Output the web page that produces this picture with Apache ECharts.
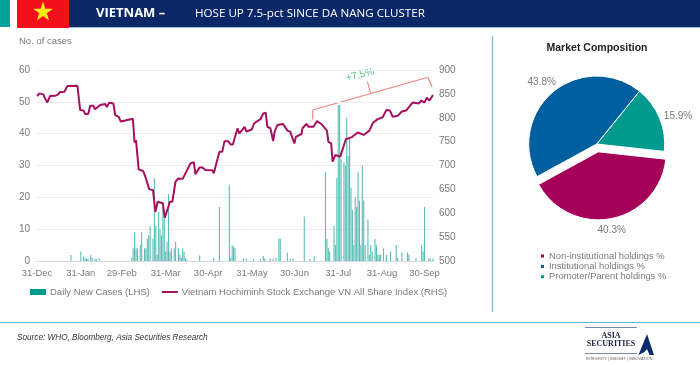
<!DOCTYPE html>
<html><head><meta charset="utf-8">
<style>html,body{margin:0;padding:0;background:#fff}#c{width:700px;height:365px}</style>
<script src="https://cdn.jsdelivr.net/npm/echarts@6/dist/echarts.min.js"></script>
</head><body><div id="c"></div>
<script>
const tickDays = [0,31,60,91,121,152,182,213,244,274];
const tickLabels = ['31-Dec','31-Jan','29-Feb','31-Mar','30-Apr','31-May','30-Jun','31-Jul','31-Aug','30-Sep'];
const caseDays = [24,31,33,34,35,36,38,39,41,42,44,67,68,69,70,71,73,74,76,77,78,79,80,82,83,84,85,86,87,88,89,90,91,92,93,94,95,97,98,100,101,102,103,104,105,106,115,125,129,136,137,138,139,140,146,148,153,158,160,161,165,167,169,171,172,177,179,181,189,193,196,204,205,206,207,210,211,212,213,214,215,217,218,219,220,221,222,223,224,225,226,227,228,229,230,231,232,234,235,236,237,239,240,241,242,243,245,247,250,254,255,258,262,263,268,272,273,274,277,278,280];
const caseValues = [1.9,3,1.4,0.8,0.8,0.7,1.8,1,0.7,0.6,1,1,4,9,4,4,5,9,4,4,7,8,11,7,26,11,2,15.5,10,8,17,14,3,6,21,3,4,4,6,4,2,1,4,3,1,0.5,1.7,1,17,24,1,5,4.5,4,0.8,0.8,0.6,0.6,1.6,0.8,0.7,0.7,1,7,7,2.7,0.8,0.8,14,0.6,1.6,28,7,4,3,11,5,26,49,49,32,31,30,45,33,38.5,23,16,5,20,17,28,19,5,30,19,5,13,2,5,3,7,5,2,2,2,4,2,3,5,1,2.7,2.7,2,1,5,3,17,0.8,0.8,0.8];
const indexDays = [0,1.7,4.5,5.7,7.3,9.2,12.8,15,16.3,19.4,21.5,28.6,30.5,32.9,34,36.2,37.6,40,41,44.7,48.2,49.4,51,54,55.3,57.7,59.3,67.8,69,70,71.9,75,76.6,77.8,79.4,82,83.7,85.3,89,90.3,92,93.9,95.7,97.9,100,103,108.5,110.9,112,115,117,119,124,125,129,131,132.6,135,137,138.5,141.8,143,144,146.8,148,152,153.4,158,160,161.7,162.9,165,167,168,170,174,177,179,182,183,187,187.7,190.5,192,195.5,198,201,205,206,208,209,211,214.4,218.4,223,226.7,231,235,237.7,241,244.4,247,249.6,251.5,255,258,261,265.7,270,271.6,274,275.6,277.5,280];
const indexValues = [845.5,851,849,840.6,832,845.5,846,849,854,854.6,866.5,867,816,815,808,808,825,825,817.6,826.7,829,822.5,831.5,830,805.7,802,792,798,748,753,692,688.5,676.6,675,650,648.7,603,624,620.8,591,605.4,624,624,666,673,672,704.5,707,682,696,696,690.5,690,683.6,729,729,751,751,744,744,778,767,766,781,771,776,788,797,809,810.6,781,778,751,771,785,787,773,771,746,760,766,778,787,781,781,793,787,773,750,746,708,722,718.5,755,760,769,764,773,790,797,801,816,815,802,804,813,815,832,830,836,831.5,842,836,847.6];
const pieNames = ['Promoter/Parent holdings %','Non-institutional holdings %','Institutional holdings %'];
const pieValues = [15.9,40.3,43.8];
const pieLegendOrder = ['Non-institutional holdings %','Institutional holdings %','Promoter/Parent holdings %'];
const pieColors = ['#009a8e','#a5005a','#00609f'];
const pieLabelSpots = [[678,116],[611.7,230],[541.7,82.5]];
const caseName = 'Daily New Cases (LHS)';
const indexName = 'Vietnam Hochiminh Stock Exchange VN All Share Index (RHS)';

const zip = (a,b)=>a.map((v,i)=>[v,b[i]]);
const FONT = '"Liberation Sans", Arial, sans-serif';
const GREY = '#7a7a7a';
const chart = echarts.init(document.getElementById('c'),null,{renderer:'canvas'});
const star = (cx,cy,R)=>{const p=[];for(let i=0;i<10;i++){const r=i%2?R*0.382:R,a=-Math.PI/2+i*Math.PI/5;p.push([cx+r*Math.cos(a),cy+r*Math.sin(a)]);}return p;};
const txt=(x,y,text,style)=>({type:'text',x,y,silent:true,style:Object.assign({text,fontFamily:FONT,fill:'#666',verticalAlign:'middle'},style)});
const rect=(x,y,w,h,fill)=>({type:'rect',silent:true,shape:{x,y,width:w,height:h},style:{fill}});
const ln=(x1,y1,x2,y2,stroke,lineWidth)=>({type:'line',silent:true,shape:{x1,y1,x2,y2},style:{stroke,lineWidth}});
chart.setOption({
  animation:false,
  textStyle:{fontFamily:FONT},
  grid:{left:37,right:267,top:70,bottom:104,containLabel:false},
  xAxis:{type:'value',min:0,max:280,splitLine:{show:false},
    axisLine:{show:true,onZero:false,lineStyle:{color:'#d9d9d9'}},axisTick:{show:false},
    axisLabel:{customValues:tickDays,color:GREY,fontSize:9.5,margin:7,formatter:v=>tickLabels[tickDays.indexOf(v)]}},
  yAxis:[
    {type:'value',min:0,max:60,interval:10,axisLine:{show:false},axisTick:{show:false},
      splitLine:{lineStyle:{color:'#ededed'}},axisLabel:{color:GREY,fontSize:10,margin:7}},
    {type:'value',min:500,max:900,interval:50,position:'right',axisLine:{show:false},axisTick:{show:false},
      splitLine:{show:false},axisLabel:{color:GREY,fontSize:10,margin:6}}
  ],
  legend:[
    {left:30,top:287,itemWidth:16,itemHeight:6,itemGap:11,padding:0,
      textStyle:{color:GREY,fontSize:9.5,padding:[0,0,0,-1]},
      data:[{name:caseName,icon:'rect',itemStyle:{color:'#00998f'}},{name:indexName,itemStyle:{opacity:0}}]},
    {left:539,top:251.5,orient:'vertical',itemWidth:5,itemHeight:5,itemGap:1.4,padding:0,
      textStyle:{color:GREY,fontSize:9.4,lineHeight:9,height:9,padding:[0,0,0,-1]},
      data:pieLegendOrder.map(name=>({name,icon:'rect'}))}
  ],
  series:[
    {name:caseName,type:'bar',xAxisIndex:0,yAxisIndex:0,barWidth:1.1,itemStyle:{color:'#5cbdb7'},data:zip(caseDays,caseValues)},
    {name:indexName,type:'line',xAxisIndex:0,yAxisIndex:1,symbol:'none',smooth:false,lineStyle:{color:'#a5115f',width:2},itemStyle:{color:'#a5115f'},data:zip(indexDays,indexValues)},
    {type:'pie',center:[596.7,144],radius:68,startAngle:51,clockwise:true,selectedMode:'single',selectedOffset:8,
      itemStyle:{borderColor:'#fff',borderWidth:1},
      label:{show:true,position:'outside',formatter:'{c}%',color:GREY,fontSize:10,overflow:'none'},
      labelLine:{show:false},
      labelLayout:p=>({x:pieLabelSpots[p.dataIndex][0],y:pieLabelSpots[p.dataIndex][1],align:'center',verticalAlign:'middle'}),
      emphasis:{disabled:true},
      data:pieNames.map((name,i)=>({name,value:pieValues[i],selected:i===1,
        label:{show:i!==1},itemStyle:{color:pieColors[i]}}))}
  ],
  graphic:{elements:[
    rect(0,0,10,27,'#00a39a'),
    rect(17,0,52,28,'#f2101c'),
    {type:'polygon',silent:true,shape:{points:star(43,12,10.5)},style:{fill:'#ffe81a'}},
    rect(69,0,631,27,'#0a2767'),
    rect(69,27,631,1,'#9fb4dc'),
    txt(96,13,'VIETNAM –',{fill:'#fff',fontSize:13,fontWeight:'bold',fontFamily:'"Open Sans"'}),
    txt(195,13.5,'HOSE UP 7.5-pct SINCE DA NANG CLUSTER',{fill:'#fff',fontSize:11.6,fontFamily:'"Open Sans"'}),
    txt(19,41,'No. of cases',{fontSize:9.5,fill:GREY}),
    ln(492.5,36,492.5,312,'#8dc0de',1.5),
    ln(0,322.5,700,322.5,'#62b0dc',1.2),
    txt(597,48,'Market Composition',{fill:'#222',fontSize:10.5,fontWeight:'bold',textAlign:'center'}),
    txt(pieLabelSpots[1][0],pieLabelSpots[1][1],pieValues[1]+'%',{fontSize:10,fill:GREY,textAlign:'center'}),
    ln(312.7,119.5,312.7,110,'#f58080',1.1),
    ln(312.7,110,428,77.3,'#f58080',1.1),
    ln(428,77.3,432,87,'#f58080',1.1),
    ln(370.7,93.3,367.3,81.7,'#f58080',1.1),
    {type:'text',x:360,y:75,rotation:0.26,silent:true,style:{text:'+7.5%',fill:'#55c27a',fontSize:10,fontFamily:FONT,textAlign:'center',verticalAlign:'middle'}},
    txt(17,338,'Source: WHO, Bloomberg, Asia Securities Research',{fontSize:8.2,fontStyle:'italic',fill:'#333'}),
    ln(585,327.5,637,327.5,'#7f86a8',1),
    ln(585,353.5,637,353.5,'#7f86a8',1),
    txt(611,336,'ASIA',{fontSize:8,fontWeight:'bold',fontFamily:'"Liberation Serif"',fill:'#1c2340',textAlign:'center'}),
    txt(611,344,'SECURITIES',{fontSize:8,fontWeight:'bold',fontFamily:'"Liberation Serif"',fill:'#1c2340',textAlign:'center'}),
    txt(586,359,'INTEGRITY | INSIGHT | INNOVATION',{fontSize:3.9,fill:'#666'}),
    {type:'polygon',silent:true,shape:{points:[[647,334],[654,355],[649.5,355],[647,349],[644.5,352],[638.5,355]]},style:{fill:'#0f2a6b'}}
  ]}
});
</script></body></html>
